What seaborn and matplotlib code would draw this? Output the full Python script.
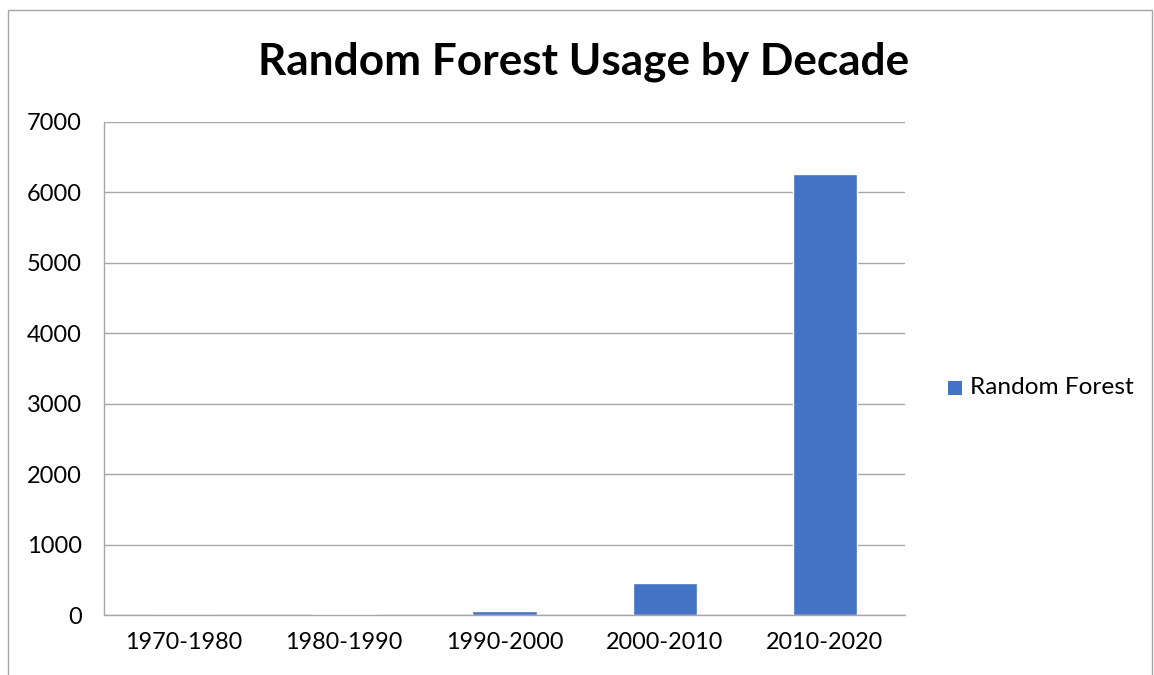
import matplotlib
matplotlib.use("Agg")
import matplotlib.pyplot as plt
import seaborn as sns
import pandas as pd
from matplotlib.patches import Rectangle

decades = ["1970-1980", "1980-1990", "1990-2000", "2000-2010", "2010-2020"]
usage = [1, 12, 57, 455, 6262]
series_name = "Random Forest"
y_ticks = [0, 1000, 2000, 3000, 4000, 5000, 6000, 7000]

sns.set_style("white")
plt.rcParams['font.family'] = ['Lato', 'DejaVu Sans']

df = pd.DataFrame({"Decade": decades, "Usage": usage, "Series": series_name})

W, H = 1154, 675
fig = plt.figure(figsize=(W / 100, H / 100), dpi=100)
ax = fig.add_axes([104 / W, 1 - 615 / H, (905 - 104) / W, (615 - 122) / H])

sns.barplot(data=df, x="Decade", y="Usage", hue="Series", palette=["#4472C4"],
            width=0.4, ax=ax, legend=False, saturation=1)

ax.set_ylim(0, 7000)
ax.set_xlim(-0.5, 4.5)
ax.set_yticks(y_ticks)
ax.set_yticklabels([str(v) for v in y_ticks], fontsize=17, color="black")
ax.yaxis.grid(True, color="#A6A6A6", linewidth=1)
ax.set_axisbelow(True)
ax.set_xlabel("")
ax.set_ylabel("")
ax.tick_params(axis="x", which="major", length=0, labelsize=16.8, pad=12, labelcolor="black")
ax.set_xticks([i - 0.5 for i in range(len(decades) + 1)], minor=True)
ax.tick_params(axis="x", which="minor", length=7, width=1, color="#A6A6A6", direction="out")
ax.tick_params(axis="y", which="major", length=7, width=1, color="#A6A6A6", direction="out", pad=9)
for s in ["top", "right"]:
    ax.spines[s].set_visible(False)
for s in ["left", "bottom"]:
    ax.spines[s].set_color("#A6A6A6")
    ax.spines[s].set_linewidth(1)

fig.text(584 / W, 1 - 62 / H, "Random Forest Usage by Decade", ha="center", va="center",
         fontsize=31.8, fontweight="bold", color="black")

# legend
fig.patches.append(Rectangle((948 / W, 1 - 395 / H), 14 / W, 14 / H,
                             transform=fig.transFigure, facecolor="#4472C4", edgecolor="none"))
fig.text(970 / W, 1 - 387 / H, series_name, ha="left", va="center", fontsize=17.6, color="black")

# outer border
fig.patches.append(Rectangle((8 / W, 0 - 0.02), 1 - 8 / W - 2 / W, 1 - 10 / H + 0.02,
                             transform=fig.transFigure, facecolor="none",
                             edgecolor="#A6A6A6", linewidth=1))

fig.savefig("out.png", dpi=100)
